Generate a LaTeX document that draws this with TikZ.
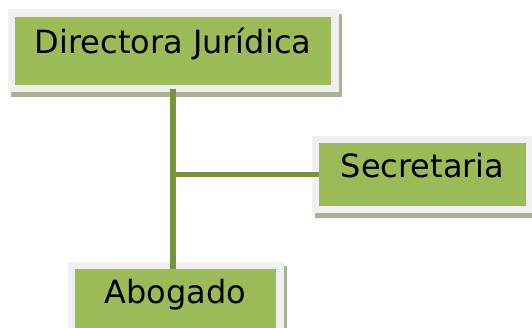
\documentclass[tikz,border=0pt]{standalone}
\usepackage{fontspec}
\setmainfont{DejaVu Sans}
\usepackage{xcolor}
\usepackage{tikz}

\definecolor{verde}{HTML}{9BBB59}
\definecolor{marco}{HTML}{F0F0F0}
\definecolor{sombra}{HTML}{A7B395}
\definecolor{linea}{HTML}{77933C}

\tikzset{
  cargo/.style={draw=marco, line width=7.5pt, fill=verde, outer sep=0pt, inner sep=0pt,
    preaction={draw=sombra, fill=sombra, line width=7.5pt, transform canvas={xshift=3pt, yshift=-4.5pt}},
    font=\fontsize{32}{38}\selectfont, text height=26pt, text depth=20.4pt},
  conector/.style={draw=linea, line width=5.5pt}
}

\begin{document}
\begin{tikzpicture}[x=1pt,y=-1pt]
          \useasboundingbox (0,0) rectangle (532,328);
          \clip (0,0) rectangle (532,328);
          \node[cargo, minimum width=323.5pt, minimum height=75.5pt] (dir) at (173,51) {Directora Jurídica};
          \node[cargo, minimum width=214.5pt, minimum height=70.25pt] (sec) at (422.5,174.6) {Secretaria};
          \node[cargo, minimum width=208.5pt, minimum height=71pt] (abo) at (175.5,301) {Abogado};
          \coordinate (cruce) at (dir.south |- sec.west);
          \draw[conector, shorten >=-3.75pt] (dir.south) -- (dir.south |- abo.north);
          \draw[conector, shorten >=-3.75pt] (cruce) -- (sec.west);
        \end{tikzpicture}
\end{document}
